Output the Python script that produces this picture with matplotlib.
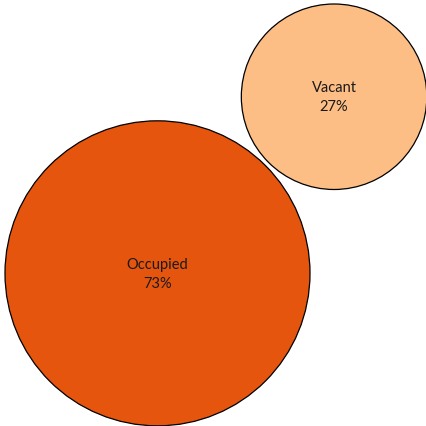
import numpy as np
import matplotlib.pyplot as plt
from matplotlib.patches import Circle

labels = ["Occupied", "Vacant"]
shares = [73, 27]
colors = ["#e6550d", "#fdbe85"]

plt.rcParams["font.family"] = ["Lato", "DejaVu Sans"]

# radius ~ sqrt(value), big one in the lower left, small one up right
radii = np.sqrt(np.array(shares, dtype=float))
gap = 0.25
r1, r2 = radii
side = r1 + r2 + (r1 + r2 + gap) / np.sqrt(2)
centers = [(r1, r1), (side - r2, side - r2)]

fig = plt.figure(figsize=(4.27, 4.27), dpi=100)
ax = fig.add_axes([0, 0, 1, 1])

for (cx, cy), r, c, lab, v in zip(centers, radii, colors, labels, shares):
    ax.add_patch(Circle((cx, cy), r, facecolor=c, edgecolor="black", linewidth=0.9))
    ax.text(cx, cy, f"{lab}\n{v}%", ha="center", va="center", fontsize=10.5,
            color="#1a1a1a", linespacing=1.5)

span = side + 0.29
ax.set_xlim(-0.28, -0.28 + span)
ax.set_ylim(-0.01, -0.01 + span)
ax.set_aspect("equal")
ax.axis("off")

fig.savefig("out.png", dpi=100)
